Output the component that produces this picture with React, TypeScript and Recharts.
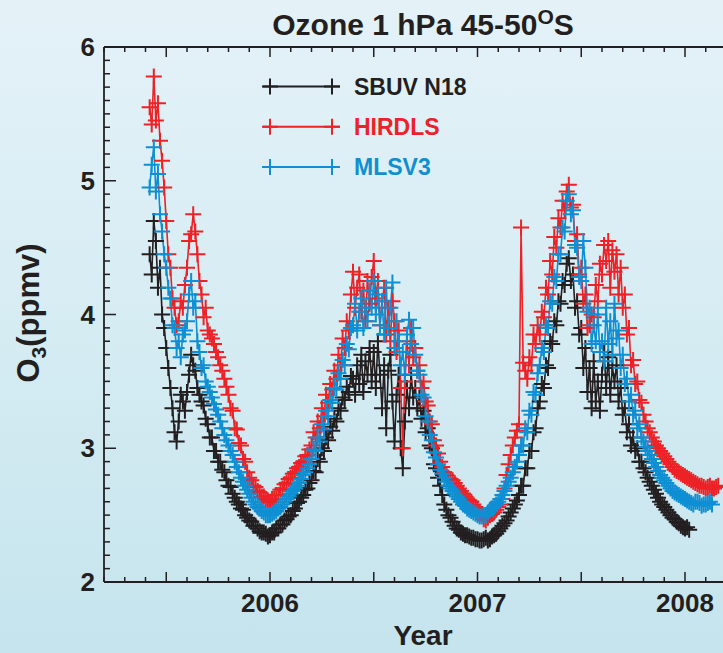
import { Line, LineChart, XAxis, YAxis } from 'recharts'

// Ozone at 1 hPa, 45-50°S: SBUV (NOAA-18), HIRDLS and MLS v3 near-daily zonal means.
const YEARS = [
  2005.42, 2005.43, 2005.44, 2005.45, 2005.46, 2005.47, 2005.48, 2005.49,
  2005.5, 2005.51, 2005.52, 2005.53, 2005.54, 2005.55, 2005.56, 2005.57, 2005.58, 2005.59,
  2005.6, 2005.61, 2005.62, 2005.63, 2005.64, 2005.65, 2005.66, 2005.67, 2005.68, 2005.69,
  2005.7, 2005.71, 2005.72, 2005.73, 2005.74, 2005.75, 2005.76, 2005.77, 2005.78, 2005.79,
  2005.8, 2005.81, 2005.82, 2005.83, 2005.84, 2005.85, 2005.86, 2005.87, 2005.88, 2005.89,
  2005.9, 2005.91, 2005.92, 2005.93, 2005.94, 2005.95, 2005.96, 2005.97, 2005.98, 2005.99,
  2006.0, 2006.01, 2006.02, 2006.03, 2006.04, 2006.05, 2006.06, 2006.07, 2006.08, 2006.09,
  2006.1, 2006.11, 2006.12, 2006.13, 2006.14, 2006.15, 2006.16, 2006.17, 2006.18, 2006.19,
  2006.2, 2006.21, 2006.22, 2006.23, 2006.24, 2006.25, 2006.26, 2006.27, 2006.28, 2006.29,
  2006.3, 2006.31, 2006.32, 2006.33, 2006.34, 2006.35, 2006.36, 2006.37, 2006.38, 2006.39,
  2006.4, 2006.41, 2006.42, 2006.43, 2006.44, 2006.45, 2006.46, 2006.47, 2006.48, 2006.49,
  2006.5, 2006.51, 2006.52, 2006.53, 2006.54, 2006.55, 2006.56, 2006.57, 2006.58, 2006.59,
  2006.6, 2006.61, 2006.62, 2006.63, 2006.64, 2006.65, 2006.66, 2006.67, 2006.68, 2006.69,
  2006.7, 2006.71, 2006.72, 2006.73, 2006.74, 2006.75, 2006.76, 2006.77, 2006.78, 2006.79,
  2006.8, 2006.81, 2006.82, 2006.83, 2006.84, 2006.85, 2006.86, 2006.87, 2006.88, 2006.89,
  2006.9, 2006.91, 2006.92, 2006.93, 2006.94, 2006.95, 2006.96, 2006.97, 2006.98, 2006.99,
  2007.0, 2007.01, 2007.02, 2007.03, 2007.04, 2007.05, 2007.06, 2007.07, 2007.08, 2007.09,
  2007.1, 2007.11, 2007.12, 2007.13, 2007.14, 2007.15, 2007.16, 2007.17, 2007.18, 2007.19,
  2007.2, 2007.21, 2007.22, 2007.23, 2007.24, 2007.25, 2007.26, 2007.27, 2007.28, 2007.29,
  2007.3, 2007.31, 2007.32, 2007.33, 2007.34, 2007.35, 2007.36, 2007.37, 2007.38, 2007.39,
  2007.4, 2007.41, 2007.42, 2007.43, 2007.44, 2007.45, 2007.46, 2007.47, 2007.48, 2007.49,
  2007.5, 2007.51, 2007.52, 2007.53, 2007.54, 2007.55, 2007.56, 2007.57, 2007.58, 2007.59,
  2007.6, 2007.61, 2007.62, 2007.63, 2007.64, 2007.65, 2007.66, 2007.67, 2007.68, 2007.69,
  2007.7, 2007.71, 2007.72, 2007.73, 2007.74, 2007.75, 2007.76, 2007.77, 2007.78, 2007.79,
  2007.8, 2007.81, 2007.82, 2007.83, 2007.84, 2007.85, 2007.86, 2007.87, 2007.88, 2007.89,
  2007.9, 2007.91, 2007.92, 2007.93, 2007.94, 2007.95, 2007.96, 2007.97, 2007.98, 2007.99,
  2008.0, 2008.01, 2008.02, 2008.03, 2008.04, 2008.05, 2008.06, 2008.07, 2008.08, 2008.09,
  2008.1, 2008.11, 2008.12, 2008.13, 2008.14, 2008.15, 2008.16,
]

const SBUV_N18 = [
  4.45, 4.3, 4.7, 4.55, 4.2, 4.35, 4.0, 3.9,
  3.75, 3.6, 3.45, 3.3, 3.12, 3.05, 3.2, 3.4, 3.35, 3.28,
  3.42, 3.55, 3.7, 3.62, 3.58, 3.45, 3.4, 3.35, 3.32, 3.22,
  3.18, 3.08, 3.08, 2.98, 2.98, 2.9, 2.9, 2.84, 2.82, 2.76,
  2.72, 2.71, 2.66, 2.63, 2.6, 2.58, 2.55, 2.54, 2.5, 2.48,
  2.46, 2.45, 2.42, 2.42, 2.4, 2.38, 2.37, 2.37, 2.36, 2.34,
  2.35, 2.37, 2.37, 2.4, 2.4, 2.43, 2.43, 2.46, 2.47, 2.49,
  2.5, 2.53, 2.55, 2.59, 2.6, 2.63, 2.65, 2.69, 2.7, 2.74,
  2.76, 2.83, 2.82, 2.92, 2.9, 3.0, 2.98, 3.08, 3.06, 3.16,
  3.13, 3.22, 3.2, 3.3, 3.28, 3.38, 3.36, 3.46, 3.42, 3.54,
  3.52, 3.4, 3.62, 3.48, 3.7, 3.42, 3.65, 3.55, 3.75, 3.5,
  3.72, 3.45, 3.8, 3.55, 3.3, 3.62, 3.15, 3.58, 3.7, 3.35,
  3.05, 3.4, 3.55, 3.0, 2.85, 3.2, 3.45, 3.3, 3.55, 3.38,
  3.45, 3.3, 3.38, 3.22, 3.28, 3.12, 3.15, 3.02, 3.0, 2.88,
  2.85, 2.78, 2.72, 2.65, 2.58, 2.54, 2.5, 2.48, 2.45, 2.42,
  2.4, 2.39, 2.37, 2.36, 2.35, 2.35, 2.34, 2.33, 2.33, 2.32,
  2.32, 2.31, 2.31, 2.32, 2.33, 2.31, 2.32, 2.34, 2.35, 2.36,
  2.38, 2.4, 2.42, 2.44, 2.46, 2.49, 2.52, 2.55, 2.58, 2.61,
  2.65, 2.72, 2.72, 2.85, 2.85, 2.98, 2.98, 3.12, 3.15, 3.3,
  3.35, 3.48, 3.45, 3.62, 3.6, 3.8, 3.78, 3.95, 3.92, 4.1,
  4.08, 4.25, 4.22, 4.38, 4.42, 4.25, 4.3, 4.05, 4.1, 3.85,
  3.9, 3.6, 3.75, 3.42, 3.6, 3.3, 3.65, 3.35, 3.5, 3.28,
  3.55, 3.72, 3.45, 3.68, 3.4, 3.6, 3.5, 3.62, 3.35, 3.45,
  3.25, 3.3, 3.12, 3.18, 3.02, 3.08, 2.98, 3.0, 2.9, 2.9,
  2.85, 2.82, 2.78, 2.75, 2.72, 2.69, 2.66, 2.63, 2.6, 2.58,
  2.56, 2.54, 2.52, 2.5, 2.48, 2.47, 2.45, 2.44, 2.42, 2.41,
  2.4, 2.41, 2.39, null, null, null, null, null, null, null,
  null, null, null, null, null, null, null,
]

const HIRDLS = [
  5.55, 5.42, 5.78, 5.45, 5.58, 5.3, 5.15, 4.95,
  4.7, 4.45, 4.35, 4.12, 4.05, 3.92, 3.95, 4.1, 4.05, 4.22,
  4.35, 4.55, 4.6, 4.75, 4.62, 4.45, 4.25, 4.15, 3.98, 4.05,
  3.88, 3.85, 3.82, 3.78, 3.72, 3.68, 3.62, 3.58, 3.52, 3.46,
  3.4, 3.3, 3.28, 3.15, 3.14, 3.04, 3.02, 2.92, 2.9, 2.82,
  2.78, 2.76, 2.72, 2.71, 2.68, 2.67, 2.64, 2.64, 2.62, 2.61,
  2.6, 2.62, 2.62, 2.65, 2.65, 2.69, 2.7, 2.73, 2.74, 2.77,
  2.78, 2.81, 2.82, 2.85, 2.86, 2.89, 2.9, 2.94, 2.95, 2.99,
  3.02, 3.12, 3.08, 3.2, 3.15, 3.3, 3.24, 3.4, 3.34, 3.48,
  3.44, 3.58, 3.52, 3.7, 3.62, 3.82, 3.75, 3.95, 3.88, 4.15,
  4.32, 4.05, 4.2, 4.3, 4.02, 4.18, 3.95, 4.25, 4.08, 4.28,
  4.4, 4.12, 4.25, 3.92, 4.1, 4.2, 3.85, 4.05, 3.8, 4.1,
  3.95, 3.72, 3.88, 3.45, 3.0, 3.5, 3.8, 3.62, 3.9, 3.68,
  3.75, 3.58, 3.62, 3.45, 3.5, 3.35, 3.32, 3.2, 3.18, 3.06,
  3.02, 2.96, 2.9, 2.86, 2.82, 2.8, 2.78, 2.77, 2.76, 2.74,
  2.72, 2.7, 2.68, 2.66, 2.64, 2.62, 2.61, 2.6, 2.58, 2.56,
  2.55, 2.52, 2.5, 2.47, 2.46, 2.48, 2.5, 2.51, 2.52, 2.54,
  2.56, 2.58, 2.62, 2.7, 2.8, 2.88, 2.95, 3.02, 3.08, 3.13,
  3.18, 4.65, 3.64, 3.58, 3.52, 3.68, 3.62, 3.85, 3.78, 3.92,
  3.85, 4.02, 3.98, 4.2, 4.15, 4.4, 4.3, 4.58, 4.5, 4.72,
  4.65, 4.85, 4.78, 4.92, 4.97, 4.8, 4.82, 4.55, 4.6, 4.3,
  4.35, 4.08, 4.15, 3.9, 3.92, 4.0, 3.98, 4.22, 4.1, 4.38,
  4.3, 4.52, 4.4, 4.55, 4.2, 4.48, 4.32, 4.45, 4.15, 4.35,
  4.05, 4.15, 3.85, 3.9, 3.62, 3.66, 3.48, 3.5, 3.36, 3.34,
  3.25, 3.2, 3.15, 3.12, 3.08, 3.05, 3.02, 3.0, 2.98, 2.96,
  2.94, 2.92, 2.9, 2.88, 2.86, 2.84, 2.83, 2.82, 2.81, 2.8,
  2.79, 2.78, 2.77, 2.76, 2.75, 2.74, 2.73, 2.72, 2.72, 2.71,
  2.7, 2.71, 2.72, 2.7, 2.7, 2.71, 2.72,
]

const MLSV3 = [
  4.95, 5.12, 5.25, 4.92, 5.05, 4.75, 4.62, 4.45,
  4.35, 4.2, 4.12, 3.92, 3.9, 3.75, 3.8, 3.68, 3.85, 3.88,
  3.95, 4.15, 4.25, 4.05, 4.1, 3.8, 3.72, 3.6, 3.62, 3.5,
  3.46, 3.42, 3.38, 3.33, 3.29, 3.25, 3.2, 3.15, 3.1, 3.06,
  3.02, 2.98, 2.95, 2.9, 2.86, 2.82, 2.78, 2.75, 2.72, 2.69,
  2.66, 2.63, 2.6, 2.58, 2.56, 2.55, 2.53, 2.52, 2.5, 2.5,
  2.5, 2.51, 2.52, 2.53, 2.55, 2.56, 2.58, 2.6, 2.62, 2.64,
  2.66, 2.68, 2.7, 2.72, 2.74, 2.77, 2.8, 2.82, 2.85, 2.88,
  2.92, 2.99, 2.98, 3.08, 3.05, 3.18, 3.14, 3.28, 3.24, 3.36,
  3.34, 3.45, 3.44, 3.56, 3.52, 3.66, 3.62, 3.78, 3.74, 3.9,
  3.92, 4.08, 3.88, 4.02, 4.12, 3.9, 4.05, 3.95, 4.18, 4.05,
  4.25, 4.0, 4.15, 3.92, 4.1, 3.85, 4.2, 3.9, 4.05, 4.24,
  3.75, 3.95, 3.8, 3.62, 3.72, 3.55, 3.85, 3.96, 3.78, 3.9,
  3.7, 3.58, 3.55, 3.4, 3.38, 3.24, 3.2, 3.1, 3.06, 2.97,
  2.93, 2.88, 2.84, 2.81, 2.78, 2.75, 2.72, 2.7, 2.68, 2.66,
  2.64, 2.62, 2.6, 2.58, 2.57, 2.55, 2.54, 2.53, 2.52, 2.51,
  2.5, 2.49, 2.49, 2.5, 2.5, 2.52, 2.54, 2.55, 2.56, 2.58,
  2.6, 2.62, 2.65, 2.68, 2.72, 2.75, 2.78, 2.82, 2.86, 2.9,
  2.95, 3.02, 3.02, 3.15, 3.12, 3.28, 3.25, 3.42, 3.4, 3.56,
  3.62, 3.75, 3.72, 3.92, 3.9, 4.1, 4.08, 4.28, 4.25, 4.45,
  4.45, 4.65, 4.62, 4.85, 4.9, 4.75, 4.78, 4.52, 4.5, 4.28,
  4.25, 4.55, 4.35, 4.02, 4.05, 3.78, 3.92, 3.8, 4.0, 3.72,
  3.8, 3.65, 4.05, 3.78, 3.95, 3.7, 4.08, 3.82, 3.88, 3.6,
  3.7, 3.48, 3.52, 3.35, 3.4, 3.25, 3.28, 3.15, 3.18, 3.08,
  3.05, 3.01, 2.98, 2.95, 2.92, 2.89, 2.86, 2.83, 2.8, 2.78,
  2.76, 2.74, 2.72, 2.7, 2.68, 2.67, 2.66, 2.65, 2.64, 2.63,
  2.62, 2.61, 2.6, 2.59, 2.58, 2.6, 2.6, 2.59, 2.57, 2.58,
  2.58, 2.59, 2.6, 2.58, null, null, null,
]

// axis ticks every 0.1 (minor) with labels on whole years / whole ppmv
const X_TICKS = [
  2005.2, 2005.3, 2005.4, 2005.5, 2005.6, 2005.7, 2005.8, 2005.9, 2006.0,
  2006.1, 2006.2, 2006.3, 2006.4, 2006.5, 2006.6, 2006.7, 2006.8, 2006.9, 2007.0,
  2007.1, 2007.2, 2007.3, 2007.4, 2007.5, 2007.6, 2007.7, 2007.8, 2007.9, 2008.0,
  2008.1, 2008.2,
]
const YEAR_LABELS = [2006, 2007, 2008]

const Y_TICKS = [
  2.0, 2.1, 2.2, 2.3, 2.4, 2.5, 2.6, 2.7, 2.8, 2.9,
  3.0, 3.1, 3.2, 3.3, 3.4, 3.5, 3.6, 3.7, 3.8, 3.9,
  4.0, 4.1, 4.2, 4.3, 4.4, 4.5, 4.6, 4.7, 4.8, 4.9,
  5.0, 5.1, 5.2, 5.3, 5.4, 5.5, 5.6, 5.7, 5.8, 5.9, 6.0,
]
const O3_LABELS = [2, 3, 4, 5, 6]

const INK = '#231f20'
const RED = '#ec2227'
const BLUE = '#0f8fd3'
const FONT = '"Liberation Sans", Arial, Helvetica, sans-serif'

const SERIES = [
  { key: 'sbuv', name: 'SBUV N18', color: INK },
  { key: 'hirdls', name: 'HIRDLS', color: RED },
  { key: 'mls', name: 'MLSV3', color: BLUE },
]

const rows = YEARS.map((t, i) => ({ t, sbuv: SBUV_N18[i], hirdls: HIRDLS[i], mls: MLSV3[i] }))

const near = (v: number, step: number) => Math.abs(v / step - Math.round(v / step)) < 1e-6
const labelFor = (v: number, labels: number[]) => labels.find((l) => Math.abs(l - v) < 1e-6)

const ARM = 8

function crossDot(color: string) {
  return (props: any) => {
    const { cx, cy, index } = props
    if (cx == null || cy == null || !Number.isFinite(cx) || !Number.isFinite(cy)) {
      return <g key={`n${index}`} />
    }
    return (
      <path
        key={`d${index}`}
        d={`M${cx - ARM},${cy}H${cx + ARM}M${cx},${cy - ARM}V${cy + ARM}`}
        stroke={color}
        strokeWidth={2}
        fill="none"
      />
    )
  }
}

function BottomTick(props: any) {
  const { x, y, payload } = props
  const v = payload.value as number
  const lab = labelFor(v, YEAR_LABELS)
  return (
    <g>
      <line x1={x} x2={x} y1={y} y2={y - (near(v, 0.5) ? 10 : 5)} stroke={INK} strokeWidth={1.5} />
      {lab != null ? (
        <text x={x} y={y + 30} textAnchor="middle" fill={INK} fontSize={26} fontWeight="bold" fontFamily={FONT}>
          {lab}
        </text>
      ) : null}
    </g>
  )
}

function TopTick(props: any) {
  const { x, y, payload } = props
  const v = payload.value as number
  return <line x1={x} x2={x} y1={y} y2={y + (near(v, 0.5) ? 10 : 5)} stroke={INK} strokeWidth={1.5} />
}

function LeftTick(props: any) {
  const { x, y, payload } = props
  const v = payload.value as number
  const lab = labelFor(v, O3_LABELS)
  return (
    <g>
      <line x1={x} x2={x + (lab != null ? 12 : 6)} y1={y} y2={y} stroke={INK} strokeWidth={1.5} />
      {lab != null ? (
        <text x={x - 9} y={y + 9} textAnchor="end" fill={INK} fontSize={26} fontWeight="bold" fontFamily={FONT}>
          {lab}
        </text>
      ) : null}
    </g>
  )
}

function RightTick(props: any) {
  const { x, y, payload } = props
  const v = payload.value as number
  const major = labelFor(v, O3_LABELS) != null
  return <line x1={x} x2={x - (major ? 12 : 6)} y1={y} y2={y} stroke={INK} strokeWidth={1.5} />
}

function Overlay() {
  return (
    <svg
      width={723}
      height={653}
      style={{ position: 'absolute', left: 0, top: 0, pointerEvents: 'none' }}
      fontFamily={FONT}
      fontWeight="bold"
    >
      <text x={423} y={35} textAnchor="middle" fill={INK} fontSize={30}>
        Ozone 1 hPa 45-50
        <tspan fontSize={21} dy={-11}>O</tspan>
        <tspan dy={11}>S</tspan>
      </text>
      <text x={423} y={645} textAnchor="middle" fill={INK} fontSize={28}>
        Year
      </text>
      <text x={39} y={313} textAnchor="middle" fill={INK} fontSize={31} transform="rotate(-90 39 313)">
        O<tspan fontSize={21} dy={7}>3</tspan>
        <tspan dy={-7}>(ppmv)</tspan>
      </text>
      {SERIES.map((s, i) => {
        const y = 86.5 + i * 40.2
        return (
          <g key={s.key}>
            <line x1={263} x2={340} y1={y} y2={y} stroke={s.color} strokeWidth={2} />
            <path d={`M${270 - ARM},${y}H${270 + ARM}M270,${y - ARM}V${y + ARM}`} stroke={s.color} strokeWidth={2} />
            <path d={`M${332 - ARM},${y}H${332 + ARM}M332,${y - ARM}V${y + ARM}`} stroke={s.color} strokeWidth={2} />
            <text x={354} y={y + 8.5} fill={s.color} fontSize={23}>
              {s.name}
            </text>
          </g>
        )
      })}
    </svg>
  )
}

export default function App() {
  return (
    <div
      style={{
        position: 'fixed',
        left: 0,
        top: 0,
        width: 723,
        height: 653,
        overflow: 'hidden',
        background: 'linear-gradient(180deg, #e4f2f8 0%, #d6ecf3 50%, #c5e4ed 100%)',
      }}
    >
      <LineChart
        width={730}
        height={653}
        data={rows}
        margin={{ top: 46, right: 2.5, bottom: 70, left: 103 }}
        style={{ position: 'absolute', left: 0, top: 0 }}
      >
        <XAxis
          dataKey="t"
          type="number"
          domain={[2005.2, 2008.2]}
          ticks={X_TICKS}
          interval={0}
          height={1}
          tickSize={0}
          tickMargin={0}
          tickLine={false}
          axisLine={{ stroke: INK, strokeWidth: 1.8 }}
          tick={(p: any) => <BottomTick {...p} />}
        />
        <XAxis
          xAxisId="top"
          orientation="top"
          dataKey="t"
          type="number"
          domain={[2005.2, 2008.2]}
          ticks={X_TICKS}
          interval={0}
          height={1}
          tickSize={0}
          tickMargin={0}
          tickLine={false}
          axisLine={{ stroke: INK, strokeWidth: 1.8 }}
          tick={(p: any) => <TopTick {...p} />}
        />
        <YAxis
          type="number"
          domain={[2, 6]}
          ticks={Y_TICKS}
          interval={0}
          width={1}
          tickSize={0}
          tickMargin={0}
          tickLine={false}
          axisLine={{ stroke: INK, strokeWidth: 1.8 }}
          tick={(p: any) => <LeftTick {...p} />}
        />
        <YAxis
          yAxisId="right"
          orientation="right"
          type="number"
          domain={[2, 6]}
          ticks={Y_TICKS}
          interval={0}
          width={1}
          tickSize={0}
          tickMargin={0}
          tickLine={false}
          axisLine={{ stroke: INK, strokeWidth: 1.8 }}
          tick={(p: any) => <RightTick {...p} />}
        />
        {SERIES.map((s) => (
          <Line
            key={s.key}
            dataKey={s.key}
            name={s.name}
            stroke={s.color}
            strokeWidth={1.6}
            dot={crossDot(s.color)}
            activeDot={false}
            connectNulls
            isAnimationActive={false}
          />
        ))}
      </LineChart>
      <Overlay />
    </div>
  )
}
